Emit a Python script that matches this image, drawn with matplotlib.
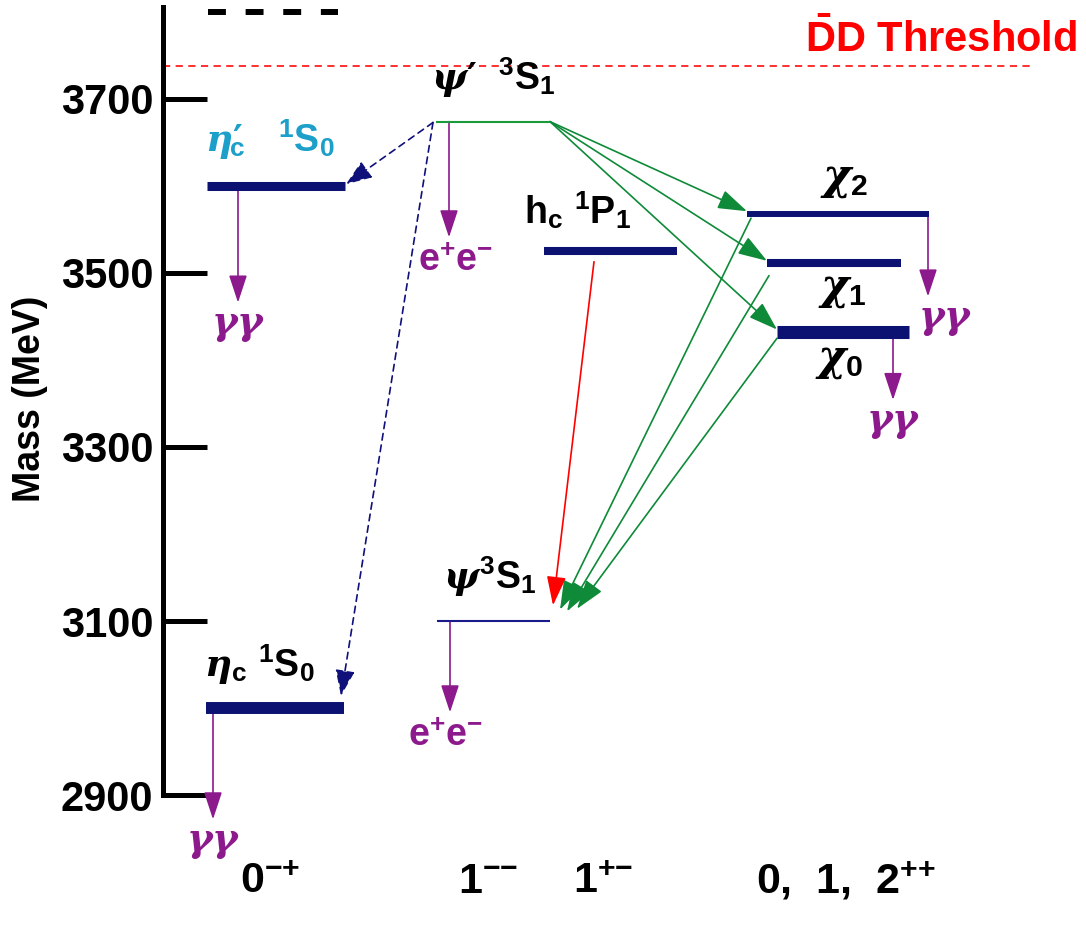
import matplotlib
matplotlib.use('Agg')
import matplotlib.pyplot as plt

plt.rcParams['font.family'] = ['Liberation Sans', 'DejaVu Sans']
plt.rcParams['font.weight'] = 'bold'
plt.rcParams['mathtext.fontset'] = 'custom'
plt.rcParams['mathtext.rm'] = 'Liberation Sans:bold'
plt.rcParams['mathtext.bf'] = 'Liberation Sans:bold'
plt.rcParams['mathtext.sf'] = 'Liberation Sans:bold'
plt.rcParams['mathtext.it'] = 'DejaVu Serif:italic:bold'

# charmonium levels (MeV)
level_names = ['eta_c', 'jpsi', 'eta_c2S', 'h_c', 'chi_c0', 'chi_c1', 'chi_c2', 'psi2S']
level_mass = [3000, 3100, 3600, 3525, 3432, 3511, 3568, 3674]
level_labels = [r'$\eta_\mathrm{c}\;{}^1\mathrm{S}_0$', r'$\psi^3\mathrm{S}_1$',
                '$\\eta$\u2032${}\\!\\!_\\mathrm{c}\\;\\;\\;{}^1\\mathrm{S}_0$',
                r'$\mathrm{h}_\mathrm{c}\;{}^1\mathrm{P}_1$',
                r'$\chi_0$', r'$\chi_1$', r'$\chi_2$',
                '$\\psi$\u2032$\\;\\;{}^3\\mathrm{S}_1$']
threshold_mass = 3738
mass_ticks = [2900, 3100, 3300, 3500, 3700]
jpc_labels = [r'0$^{{-}{+}}$', r'1$^{{-}{-}}$', r'1$^{{+}{-}}$', r'0,  1,  2$^{{+}{+}}$']

# decays: (level, final state)
decays = [('eta_c2S', 'gg'), ('psi2S', 'ee'), ('jpsi', 'ee'), ('eta_c', 'gg'),
          ('chi_c2', 'gg'), ('chi_c0', 'gg')]
# transitions: (from, to, kind)
transitions = [('psi2S', 'chi_c2', 'rad'), ('psi2S', 'chi_c1', 'rad'), ('psi2S', 'chi_c0', 'rad'),
               ('chi_c2', 'jpsi', 'rad'), ('chi_c1', 'jpsi', 'rad'), ('chi_c0', 'jpsi', 'rad'),
               ('h_c', 'jpsi', 'hc'), ('psi2S', 'eta_c2S', 'm1'), ('psi2S', 'eta_c', 'm1')]

# ---- layout (x in pixels, offsets in MeV) ----
mass = dict(zip(level_names, level_mass))
lab = dict(zip(level_names, level_labels))
xspan = {'eta_c': (206, 344), 'jpsi': (437, 550), 'eta_c2S': (207, 345), 'h_c': (544, 677),
         'chi_c0': (777, 909), 'chi_c1': (767, 901), 'chi_c2': (747, 929), 'psi2S': (436, 550)}
thick = {'eta_c': 8.6, 'jpsi': 1.5, 'eta_c2S': 6.5, 'h_c': 5.8, 'chi_c0': 9.4,
         'chi_c1': 5.8, 'chi_c2': 4.3, 'psi2S': 1.5}
lcol = {n: '#0b1272' for n in level_names}
lcol['psi2S'] = '#1a9a3a'
lcol['jpsi'] = '#1a1a8a'
label_pos = {'eta_c': (204, 3036), 'jpsi': (443, 3137), 'eta_c2S': (205, 3639), 'h_c': (524, 3557),
             'chi_c0': (815, 3389), 'chi_c1': (818, 3470), 'chi_c2': (820, 3597), 'psi2S': (431, 3710)}
label_size = {n: 27 for n in level_names}
for n in ['chi_c0', 'chi_c1', 'chi_c2']:
    label_size[n] = 31
label_font = {n: ['Liberation Sans', 'DejaVu Sans'] for n in level_names}
label_font['eta_c2S'] = ['DejaVu Sans']
label_font['psi2S'] = ['DejaVu Sans']
label_col = {n: 'black' for n in level_names}
label_col['eta_c2S'] = '#1c9fc9'
decay_x = {'eta_c2S': 238, 'psi2S': 449, 'jpsi': 450, 'eta_c': 213, 'chi_c2': 928, 'chi_c0': 893}
decay_len = {'eta_c2S': 134, 'psi2S': 133, 'jpsi': 105, 'eta_c': 128, 'chi_c2': 95, 'chi_c0': 78}
decay_lab_dx = {'eta_c2S': 0, 'psi2S': 6, 'jpsi': -5, 'eta_c': 0, 'chi_c2': 17, 'chi_c0': 0}

PX = 0.87  # pixels per MeV
ytop = 3700 + 99 / PX
ybot = 3700 - (931 - 99) / PX

fig = plt.figure(figsize=(10.86, 9.31), dpi=100)
ax = fig.add_axes([0, 0, 1, 1])
ax.set_xlim(0, 1086)
ax.set_ylim(ybot, ytop)

for s in ['top', 'right', 'bottom']:
    ax.spines[s].set_visible(False)
ax.spines['left'].set_position(('data', 163))
ax.spines['left'].set_bounds(2900, 3806)
ax.spines['left'].set_linewidth(3.6)
ax.set_xticks([])
ax.set_yticks(mass_ticks)
ax.tick_params(axis='y', direction='in', length=31.7, width=3.6, pad=7, labelsize=30)
for t in ax.get_yticklabels():
    t.set_fontweight('bold')
ax.text(30, 3355, 'Mass (MeV)', rotation=90, fontsize=27, fontweight='bold',
        ha='center', va='center')
ax.hlines(3800, 208, 338, colors='black', lw=4.3, linestyles=(0, (3.0, 3.3)))

# threshold
ax.hlines(threshold_mass, 163, 1030, colors='#ff2020', lw=1.3, linestyles=(0, (4, 3)))
ax.text(805, 3754, r'$\bar{\mathrm{D}}$D Threshold', color='#ff0000', fontsize=30,
        fontweight='bold', va='baseline')

# levels
for n in level_names:
    x0, x1 = xspan[n]
    ax.hlines(mass[n], x0, x1, colors=lcol[n], lw=thick[n], zorder=5)
    lx, ly = label_pos[n]
    ax.text(lx, ly, lab[n], fontsize=label_size[n], color=label_col[n], va='baseline',
            family=label_font[n], fontweight='bold', zorder=6)

purple = '#8c1a8c'
green = '#0e8a38'

def arrow(p0, p1, col, ls='-', hl=0.9, hw=0.3, ms=20, lw=1.2):
    ax.annotate('', xy=p1, xytext=p0,
                arrowprops=dict(arrowstyle='-|>,head_length=%g,head_width=%g' % (hl, hw),
                                color=col, lw=lw, ls=ls, shrinkA=0, shrinkB=0,
                                mutation_scale=ms), zorder=3)

# decays
for n, fs in decays:
    x = decay_x[n]
    tip = mass[n] - decay_len[n]
    arrow((x, mass[n]), (x, tip), purple, hl=0.85, hw=0.28)
    txt = r'$\gamma\gamma$' if fs == 'gg' else r'$\mathrm{e}^{+}\mathrm{e}^{-}$'
    ax.text(x + decay_lab_dx[n], tip - 6, txt, fontsize=28 if fs == 'gg' else 27,
            color=purple, ha='center', va='top')

# transitions
start_off = {'chi_c2': (4, -5), 'chi_c1': (2, -14), 'chi_c0': (0, -7), 'h_c': (50, -12)}
end_jpsi = {'chi_c2': (560, 3113), 'chi_c1': (567, 3111), 'chi_c0': (577, 3114), 'h_c': (553, 3118)}
for a, b, kind in transitions:
    if a == 'psi2S' and kind == 'rad':
        p0 = (xspan[a][1], mass[a])
        p1 = (xspan[b][0], mass[b] + 3)
        arrow(p0, p1, green)
    elif kind == 'rad':
        dx, dm = start_off[a]
        p0 = (xspan[a][0] + dx, mass[a] + dm)
        arrow(p0, end_jpsi[a], green)
    elif kind == 'hc':
        dx, dm = start_off[a]
        arrow((xspan[a][0] + dx, mass[a] + dm), end_jpsi[a], '#ff0000')
    else:
        p0 = (xspan[a][0] - 3, mass[a] - 1)
        if b == 'eta_c2S':
            p1 = (xspan[b][1] + 1, mass[b] + 2)
        else:
            p1 = (xspan[b][1] - 3, mass[b] + 14)
        arrow(p0, p1, '#10107a', ls=(0, (4, 3)), hl=0.8, hw=0.3)

# J^PC labels
jpc_x = [270, 488, 603, 846]
for x, t in zip(jpc_x, jpc_labels):
    ax.text(x, 2787, t, fontsize=31, ha='center', va='baseline')

fig.savefig('out.png', dpi=100, facecolor='white')
